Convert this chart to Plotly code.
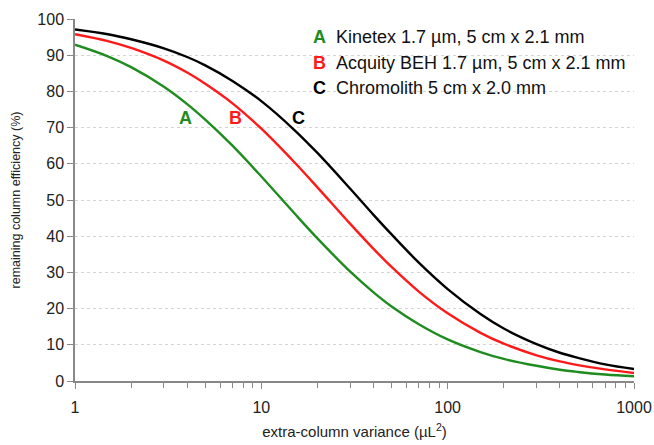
import plotly.graph_objects as go
import math

variance = [1, 1.5, 2, 3, 4, 5, 7, 10, 15, 20, 30, 40, 50, 70, 100, 150, 200, 300, 400, 500, 700, 1000]
eff_A = [92.9, 89.7, 86.7, 81.3, 76.5, 72.2, 65.0, 56.5, 46.4, 39.4, 30.2, 24.5, 20.6, 15.7, 11.5, 8.0, 6.1, 4.2, 3.1, 2.5, 1.8, 1.3]
eff_B = [95.8, 93.9, 92.0, 88.5, 85.2, 82.1, 76.7, 69.7, 60.5, 53.5, 43.4, 36.5, 31.5, 24.7, 18.7, 13.3, 10.3, 7.1, 5.4, 4.4, 3.2, 2.2]
eff_C = [97.1, 95.8, 94.4, 91.9, 89.5, 87.2, 82.9, 77.3, 69.4, 63.0, 53.1, 45.9, 40.5, 32.7, 25.4, 18.5, 14.5, 10.2, 7.8, 6.4, 4.6, 3.3]

letters = ["A", "B", "C"]
names = ["Kinetex 1.7 µm, 5 cm x 2.1 mm", "Acquity BEH 1.7 µm, 5 cm x 2.1 mm", "Chromolith 5 cm x 2.0 mm"]
colors = ["#1e8c1e", "#ff1a1a", "#000000"]
label_x = [3.9, 7.3, 15.9]
label_y = [72.6, 72.6, 72.6]
x_ticks = [1, 10, 100, 1000]
y_ticks = list(range(0, 101, 10))

FONT = "Liberation Sans, Arial, sans-serif"

fig = go.Figure()
for ys, c, n in zip([eff_A, eff_B, eff_C], colors, names):
    fig.add_trace(go.Scatter(x=variance, y=ys, mode="lines", name=n,
                             line=dict(color=c, width=2.4, shape="spline"),
                             showlegend=False))

minor_vals = [m * d for d in (1, 10, 100) for m in range(2, 10)]

fig.update_layout(
    width=654, height=445,
    margin=dict(l=75, r=20, t=19, b=64),
    paper_bgcolor="white", plot_bgcolor="white",
    font=dict(family=FONT, color="#222"),
    xaxis=dict(type="log", range=[0, 3], tickvals=x_ticks, ticktext=[str(v) for v in x_ticks],
               automargin=False,
               ticks="outside", ticklen=6, tickcolor="#888", showline=True, linecolor="#888",
               linewidth=1.5, showgrid=False, zeroline=False, tickfont=dict(size=16, color="#222"),
               ticklabelstandoff=5,
               minor=dict(tickvals=minor_vals, ticks="outside", ticklen=5, tickcolor="#888", showgrid=False),
               title=dict(text="extra-column variance (µL<sup>2</sup>)", font=dict(size=15, color="#222"),
                          standoff=12)),
    yaxis=dict(range=[0, 100], tickvals=y_ticks, ticks="outside", ticklen=6, tickcolor="#888",
               automargin=False,
               showline=True, linecolor="#888", linewidth=1.5, showgrid=True, gridcolor="#d4d4d4",
               griddash="dot", gridwidth=1, zeroline=False, tickfont=dict(size=16, color="#222"),
               title=dict(text="remaining column efficiency (%)", font=dict(size=12.5, color="#222"),
                          standoff=14)),
)

# curve labels
for L, c, lx, ly in zip(letters, colors, label_x, label_y):
    fig.add_annotation(x=math.log10(lx), y=ly, text="<b>%s</b>" % L, showarrow=False,
                       font=dict(size=18, color=c, family=FONT))

# legend-like key
rows_y = [37, 63, 88]
for L, c, n, py in zip(letters, colors, names, rows_y):
    yp = (381 - py) / 362
    fig.add_annotation(xref="paper", yref="paper", x=(319 - 75) / 559, y=yp, text="<b>%s</b>" % L,
                       showarrow=False, xanchor="center", yanchor="middle",
                       font=dict(size=18, color=c, family=FONT))
    fig.add_annotation(xref="paper", yref="paper", x=(334 - 75) / 559, y=yp, text=n,
                       showarrow=False, xanchor="left", yanchor="middle",
                       font=dict(size=18, color="#111", family=FONT))

fig.write_html("out.html")
